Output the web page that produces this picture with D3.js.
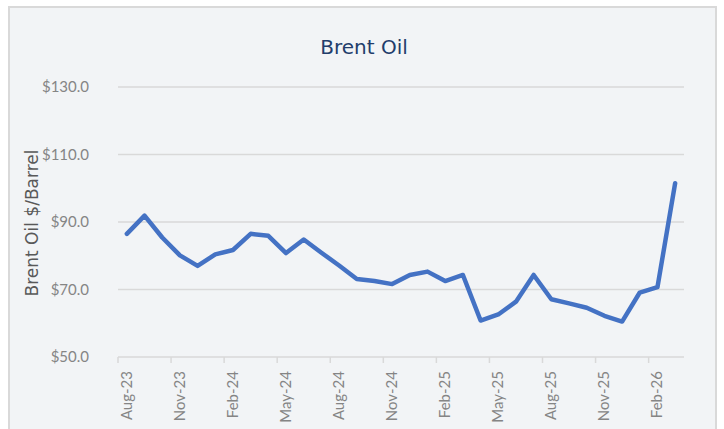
<!DOCTYPE html>
<html>
<head>
<meta charset="utf-8">
<script src="https://cdn.jsdelivr.net/npm/d3@7"></script>
<style>
  body { margin: 0; background: #ffffff; }
  text { font-family: Lato, "DejaVu Sans", sans-serif; }
</style>
</head>
<body>
<script>
var width = 724;
var height = 429;

// monthly categories, Aug-23 .. Mar-26
var months = ['Aug-23','Sep-23','Oct-23','Nov-23','Dec-23','Jan-24','Feb-24','Mar-24',
  'Apr-24','May-24','Jun-24','Jul-24','Aug-24','Sep-24','Oct-24','Nov-24','Dec-24',
  'Jan-25','Feb-25','Mar-25','Apr-25','May-25','Jun-25','Jul-25','Aug-25','Sep-25',
  'Oct-25','Nov-25','Dec-25','Jan-26','Feb-26','Mar-26'];

var prices = [86.5, 91.9, 85.4, 80.1, 77.0, 80.4, 81.7, 86.5, 85.9, 80.8, 84.8, 80.9,
  77.1, 73.1, 72.5, 71.6, 74.3, 75.3, 72.5, 74.3, 60.8, 62.6, 66.4, 74.3, 67.1, 65.9,
  64.6, 62.2, 60.5, 69.1, 70.7, 101.5];

var yTicks = [50, 70, 90, 110, 130];
var xLabelMonths = ['Aug-23','Nov-23','Feb-24','May-24','Aug-24','Nov-24','Feb-25',
  'May-25','Aug-25','Nov-25','Feb-26'];

var svg = d3.select('body').append('svg')
    .attr('width', width)
    .attr('height', height);

// chart frame
svg.append('rect')
    .attr('x', 9)
    .attr('y', 7)
    .attr('width', 707)
    .attr('height', 440)
    .attr('fill', '#f2f4f6')
    .attr('stroke', '#d9d9d9')
    .attr('stroke-width', 2);

var plot = { left: 118, right: 684, top: 87, bottom: 357 };

var x = d3.scaleBand()
    .domain(months)
    .range([plot.left, plot.right]);

var y = d3.scaleLinear()
    .domain([50, 130])
    .range([plot.bottom, plot.top]);

// title
svg.append('text')
    .attr('x', 364)
    .attr('y', 54)
    .attr('text-anchor', 'middle')
    .style('font-family', '"DejaVu Sans", sans-serif')
    .style('font-size', '20px')
    .attr('fill', '#223d6b')
    .text('Brent Oil');

// gridlines
svg.append('g')
  .selectAll('line')
    .data(yTicks.slice(1))
  .enter().append('line')
    .attr('x1', plot.left)
    .attr('x2', plot.right)
    .attr('y1', function(d) { return y(d); })
    .attr('y2', function(d) { return y(d); })
    .attr('stroke', '#d9d9d9')
    .attr('stroke-width', 1.5);

// y axis labels
var yAxis = d3.axisLeft(y)
    .tickValues(yTicks)
    .tickSize(0)
    .tickPadding(29)
    .tickFormat(function(d) { return '$' + d3.format('.1f')(d); });

svg.append('g')
    .attr('transform', 'translate(' + plot.left + ',0)')
    .call(yAxis)
    .call(function(g) { g.select('.domain').remove(); })
    .selectAll('text')
    .style('font-family', 'Lato, sans-serif')
    .style('font-size', '15px')
    .attr('fill', '#858585');

// x axis: line and ticks at category boundaries
var xg = svg.append('g');
xg.append('line')
    .attr('x1', plot.left)
    .attr('x2', plot.right)
    .attr('y1', plot.bottom)
    .attr('y2', plot.bottom)
    .attr('stroke', '#d9d9d9')
    .attr('stroke-width', 1.5);

xg.selectAll('line.tick')
    .data(xLabelMonths)
  .enter().append('line')
    .attr('class', 'tick')
    .attr('x1', function(d) { return x(d); })
    .attr('x2', function(d) { return x(d); })
    .attr('y1', plot.bottom)
    .attr('y2', plot.bottom + 6)
    .attr('stroke', '#d9d9d9')
    .attr('stroke-width', 1.5);

xg.selectAll('text')
    .data(xLabelMonths)
  .enter().append('text')
    .attr('transform', function(d) {
      return 'translate(' + (x(d) + x.bandwidth() / 2 + 5) + ',' + (plot.bottom + 14) + ') rotate(-90)';
    })
    .attr('text-anchor', 'end')
    .style('font-family', 'Lato, sans-serif')
    .style('font-size', '15px')
    .attr('fill', '#858585')
    .text(function(d) { return d; });

// axis title
svg.append('text')
    .attr('transform', 'translate(38,' + 223 + ') rotate(-90)')
    .attr('text-anchor', 'middle')
    .style('font-family', '"DejaVu Sans", sans-serif')
    .style('font-size', '17px')
    .attr('fill', '#595959')
    .text('Brent Oil $/Barrel');

// the line
var line = d3.line()
    .x(function(d, i) { return x(months[i]) + x.bandwidth() / 2; })
    .y(function(d) { return y(d); });

svg.append('path')
    .datum(prices)
    .attr('d', line)
    .attr('fill', 'none')
    .attr('stroke', '#4472c4')
    .attr('stroke-width', 4.5)
    .attr('stroke-linejoin', 'round')
    .attr('stroke-linecap', 'round');
</script>
</body>
</html>
